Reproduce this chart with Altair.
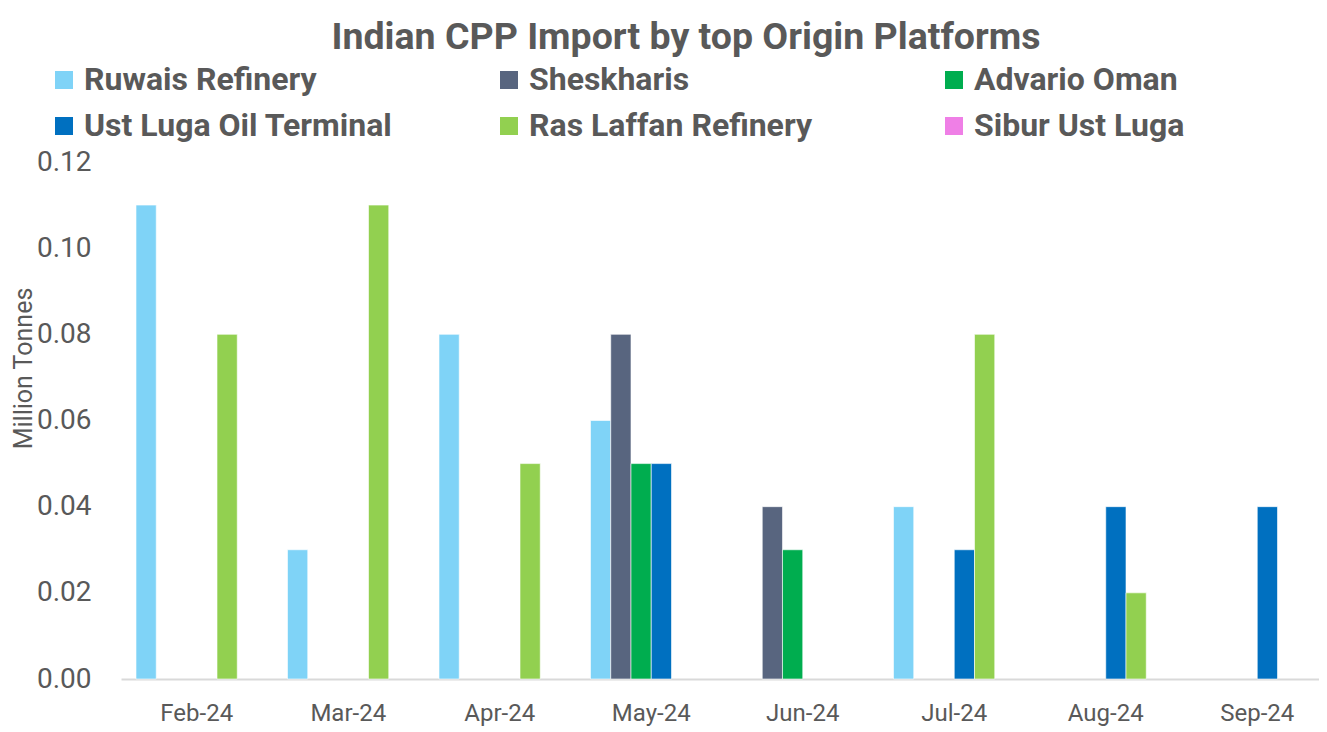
import altair as alt
import pandas as pd

months = ["Feb-24", "Mar-24", "Apr-24", "May-24", "Jun-24", "Jul-24", "Aug-24", "Sep-24"]
series = ["Ruwais Refinery", "Sheskharis", "Advario Oman",
          "Ust Luga Oil Terminal", "Ras Laffan Refinery", "Sibur Ust Luga"]
colors = ["#7fd3f7", "#58657f", "#00ad4f", "#0070c0", "#92d050", "#ef7fe6"]

ruwais = [0.11, 0.03, 0.08, 0.06, None, 0.04, None, None]
sheskharis = [None, None, None, 0.08, 0.04, None, None, None]
advario = [None, None, None, 0.05, 0.03, None, None, None]
ust_luga = [None, None, None, 0.05, None, 0.03, 0.04, 0.04]
ras_laffan = [0.08, 0.11, 0.05, None, None, 0.08, 0.02, None]
sibur = [None, None, None, None, None, None, None, None]

y_ticks = [0.0, 0.02, 0.04, 0.06, 0.08, 0.10, 0.12]

values = [ruwais, sheskharis, advario, ust_luga, ras_laffan, sibur]
rows = []
for s, vals in zip(series, values):
    for m, v in zip(months, vals):
        if v is not None:
            rows.append({"month": m, "series": s, "value": v})
df = pd.DataFrame(rows)

grey = "#595959"

chart = alt.Chart(df).mark_bar(stroke="white", strokeWidth=0.6).encode(
    x=alt.X("month:N", sort=months,
            scale=alt.Scale(domain=months, range=[0, 1212],
                            paddingInner=0.198, paddingOuter=0.099),
            axis=alt.Axis(title=None, labelAngle=0, labelFont="Roboto",
                          labelFontSize=24, labelColor=grey, labelPadding=22,
                          ticks=False, domainColor="#d9d9d9", domainWidth=2)),
    xOffset=alt.XOffset("series:N", sort=series,
                        scale=alt.Scale(domain=series, paddingInner=0, paddingOuter=0)),
    y=alt.Y("value:Q", scale=alt.Scale(domain=[0, 0.12]),
            axis=alt.Axis(values=y_ticks, format=".2f", title="Million Tonnes",
                          grid=False, domain=False, ticks=False,
                          labelFont="Roboto", labelFontSize=28, labelColor=grey,
                          labelPadding=30,
                          titleFont="Roboto", titleFontSize=25, titleFontWeight="normal",
                          titleColor=grey, titleX=-98, titleY=206,
                          titleBaseline="middle", titleAlign="center")),
    color=alt.Color("series:N", sort=series,
                    scale=alt.Scale(domain=series, range=colors),
                    legend=alt.Legend(title=None, orient="none", legendX=-73, legendY=-98,
                                      columns=3, direction="horizontal", gridAlign="all",
                                      columnPadding=100, rowPadding=14,
                                      symbolType="square", symbolSize=324,
                                      symbolStrokeWidth=0, labelOffset=4,
                                      labelFont="Roboto", labelFontWeight="bold",
                                      labelFontSize=32, labelColor=grey, labelLimit=0,
                                      values=series)),
).properties(
    width=1198, height=517,
    title=alt.TitleParams("Indian CPP Import by top Origin Platforms",
                          font="Roboto", fontSize=37.5, fontWeight="bold",
                          color=grey, anchor="middle", dx=-34, offset=8),
    autosize="none",
    padding={"left": 113, "top": 154, "right": 0, "bottom": 50},
).configure_view(stroke=None)

chart.save("out.html", embed_options={"renderer": "svg", "actions": False})
